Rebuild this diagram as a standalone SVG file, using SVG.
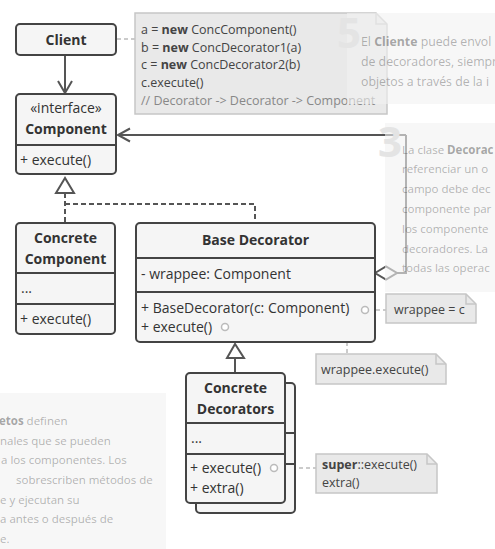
<svg xmlns="http://www.w3.org/2000/svg" width="495" height="549" viewBox="0 0 495 549">
<style>
.box{fill:#f5f5f5;stroke:#444;stroke-width:2}
.dv{stroke:#444;stroke-width:2}
.t{font-family:"Open Sans","DejaVu Sans",sans-serif;font-size:14px;fill:#333}
.c{text-anchor:middle}
.b{font-weight:bold}
.note{fill:#e9e9e9;stroke:#c6c6c6;stroke-width:1.5}
.fold{fill:none;stroke:#c6c6c6;stroke-width:1.5}
.nt{font-family:"Open Sans","DejaVu Sans",sans-serif;font-size:12.5px;fill:#444}
.gr{fill:#888}
.desc{font-family:"Open Sans","DejaVu Sans",sans-serif;font-size:11.5px;fill:#333;fill-opacity:0.36}
.d5{font-size:12.3px}
.db{font-weight:bold;fill-opacity:0.42}
.bg{fill:#f2f2f2;fill-opacity:0.6}
.dig{font-family:"Open Sans","DejaVu Sans",sans-serif;font-weight:bold;font-size:42px;fill:#e4e4e4}
.conn{stroke:#555;stroke-width:2;fill:none}
.dash{stroke-dasharray:5 3}
.ndash{stroke:#bbb;stroke-width:1.5;stroke-dasharray:4 3;fill:none}
.circ{fill:#fff;stroke:#bbb;stroke-width:1.5}
.tri{fill:#fff;stroke:#555;stroke-width:2}
</style>
<rect width="495" height="549" fill="#fff"/>

<g id="connectors">
<line class="ndash" x1="117" y1="39" x2="135" y2="39"/>
<path class="conn" d="M65 55 V93 M58 81 L65 93 L72 81"/>
<path class="conn" d="M406 135 H118 M130 128.5 L118 135 L130 141.5"/>
<path class="conn" d="M397 273 H406 V135"/>
<polygon class="tri" points="375,273 386,266.5 397,273 386,279.5"/>
<path class="conn dash" d="M65 193 V223 M65 204 H255 V223"/>
<polygon class="tri" points="65,178 56,193 74,193"/>
<path class="conn" d="M235 358 V373"/>
<polygon class="tri" points="235,344 227,358 244,358"/>
<line class="ndash" x1="369" y1="310" x2="386" y2="310"/>
<path class="ndash" d="M229 327 H347 V354"/>
<line class="ndash" x1="278" y1="468" x2="316" y2="468"/>
</g>

<g id="client">
<rect class="box" x="16" y="24" width="100" height="31" rx="4"/>
<text class="t b c" x="66" y="44.5">Client</text>
</g>

<g id="component">
<rect class="box" x="16" y="94" width="100" height="80" rx="4"/>
<line class="dv" x1="16" y1="145" x2="116" y2="145"/>
<text class="t c" x="66" y="113">«interface»</text>
<text class="t b c" x="66" y="134">Component</text>
<text class="t" x="20" y="164.5">+ execute()</text>
</g>

<g id="concreteComponent">
<rect class="box" x="16" y="223" width="99" height="111" rx="4"/>
<line class="dv" x1="16" y1="273" x2="115" y2="273"/>
<line class="dv" x1="16" y1="304" x2="115" y2="304"/>
<text class="t b c" x="65.5" y="243">Concrete</text>
<text class="t b c" x="65.5" y="264">Component</text>
<text class="t" x="21" y="293">...</text>
<text class="t" x="20" y="324">+ execute()</text>
</g>

<g id="baseDecorator">
<rect class="box" x="136" y="223" width="239" height="119" rx="4"/>
<line class="dv" x1="136" y1="258" x2="375" y2="258"/>
<line class="dv" x1="136" y1="292" x2="375" y2="292"/>
<text class="t b c" x="255.5" y="245">Base Decorator</text>
<text class="t" x="141" y="279">- wrappee: Component</text>
<text class="t" x="141" y="313">+ BaseDecorator(c: Component)</text>
<text class="t" x="141" y="332">+ execute()</text>
<circle class="circ" cx="365" cy="310" r="3.5"/>
<circle class="circ" cx="225" cy="327" r="3.5"/>
</g>

<g id="concreteDecorators">
<rect class="box" x="196" y="383" width="99" height="130" rx="4"/>
<line class="dv" x1="196" y1="433" x2="295" y2="433"/>
<line class="dv" x1="196" y1="464" x2="295" y2="464"/>
<rect class="box" x="186" y="373" width="99" height="130" rx="4"/>
<line class="dv" x1="186" y1="423" x2="285" y2="423"/>
<line class="dv" x1="186" y1="454" x2="285" y2="454"/>
<text class="t b c" x="235.5" y="393">Concrete</text>
<text class="t b c" x="235.5" y="414">Decorators</text>
<text class="t" x="191" y="443">...</text>
<text class="t" x="190" y="473">+ execute()</text>
<text class="t" x="190" y="493">+ extra()</text>
<circle class="circ" cx="274" cy="468" r="3.5"/>
</g>

<g id="noteCode">
<path class="note" d="M135 13 H376 L387 24 V114 H135 Z"/>
<path class="fold" d="M376 13 V24 H387"/>
<text class="nt" x="141" y="34">a = <tspan class="b">new</tspan> ConcComponent()</text>
<text class="nt" x="141" y="51.5">b = <tspan class="b">new</tspan> ConcDecorator1(a)</text>
<text class="nt" x="141" y="69">c = <tspan class="b">new</tspan> ConcDecorator2(b)</text>
<text class="nt" x="141" y="86.5">c.execute()</text>
<text class="nt gr" x="141" y="105">// Decorator -&gt; Decorator -&gt; Component</text>
</g>

<g id="noteWrappee">
<path class="note" d="M386 294 H466 L476 304 V323 H386 Z"/>
<path class="fold" d="M466 294 V304 H476"/>
<text class="nt" x="394" y="313.5">wrappee = c</text>
</g>

<g id="noteExecute">
<path class="note" d="M316 354 H436 L446 364 V384 H316 Z"/>
<path class="fold" d="M436 354 V364 H446"/>
<text class="nt" x="321" y="373.5">wrappee.execute()</text>
</g>

<g id="noteSuper">
<path class="note" d="M316 454 H427 L437 464 V493 H316 Z"/>
<path class="fold" d="M427 454 V464 H437"/>
<text class="nt" x="322" y="469"><tspan class="b">super</tspan>::execute()</text>
<text class="nt" x="322" y="487">extra()</text>
</g>

<g id="desc5">
<rect class="bg" x="347" y="13" width="148" height="91"/>
<text class="dig" x="337" y="48">5</text>
<text class="desc d5" x="361" y="46">El <tspan class="db">Cliente</tspan> puede envol</text>
<text class="desc d5" x="361" y="66">de decoradores, siempr</text>
<text class="desc d5" x="361" y="86">objetos a través de la i</text>
</g>

<g id="desc3">
<rect class="bg" x="385" y="123" width="110" height="169"/>
<text class="dig" x="378" y="157">3</text>
<text class="desc" x="402" y="153.5">La clase <tspan class="db">Decorac</tspan></text>
<text class="desc" x="402" y="173.3">referenciar un o</text>
<text class="desc" x="402" y="193.1">campo debe dec</text>
<text class="desc" x="402" y="212.9">componente par</text>
<text class="desc" x="402" y="232.7">los componente</text>
<text class="desc" x="402" y="252.5">decoradores. La</text>
<text class="desc" x="402" y="272.3">todas las operac</text>
</g>

<g id="descCD">
<rect class="bg" x="0" y="393" width="166" height="156"/>
<text class="desc" x="-1" y="425"><tspan class="db">etos</tspan> definen</text>
<text class="desc" x="0" y="445">nales que se pueden</text>
<text class="desc" x="1" y="464">a los componentes. Los</text>
<text class="desc" x="16" y="484">sobrescriben métodos de</text>
<text class="desc" x="0" y="504">e y ejecutan su</text>
<text class="desc" x="0" y="523">a antes o después de</text>
<text class="desc" x="0" y="543">e.</text>
</g>
</svg>
